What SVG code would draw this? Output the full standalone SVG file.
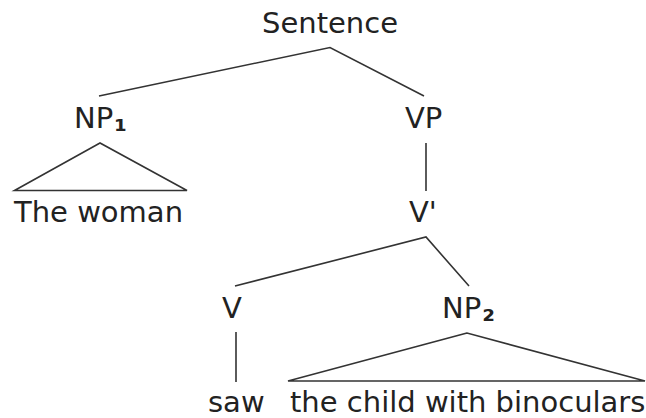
<svg xmlns="http://www.w3.org/2000/svg" width="646" height="418" viewBox="0 0 646 418">
  <style>
    .lbl { font-family: "DejaVu Sans", "Liberation Sans", sans-serif; font-size: 29px; fill: #222; }
    .sub { font-weight: bold; }
    .edge { stroke: #333; stroke-width: 1.6; fill: none; stroke-linejoin: miter; }
  </style>
  <rect width="646" height="418" fill="#fff"/>

  <!-- branches of the tree -->
  <g id="connectors">
    <polyline class="edge" points="99,96 330,47.5 424,96"/>
    <line class="edge" x1="426" y1="143" x2="426" y2="191"/>
    <polyline class="edge" points="235,286 426,237 469,286"/>
    <line class="edge" x1="236" y1="332" x2="236" y2="382"/>
    <!-- collapsed subtrees -->
    <polygon class="edge" points="100,143 14.5,190.5 187,190.5"/>
    <polygon class="edge" points="467,333 288,381 645,381"/>
  </g>

  <g id="sentence"><text class="lbl" x="262" y="33">Sentence</text></g>
  <g id="np1"><text class="lbl" x="74" y="128">NP<tspan class="sub" dx="1" dy="3">₁</tspan></text></g>
  <g id="vp"><text class="lbl" x="405" y="128">VP</text></g>
  <g id="the-woman"><text class="lbl" x="14" y="222">The woman</text></g>
  <g id="vbar"><text class="lbl" x="409" y="222">V'</text></g>
  <g id="v"><text class="lbl" x="222" y="318">V</text></g>
  <g id="np2"><text class="lbl" x="442" y="318">NP<tspan class="sub" dx="1" dy="3">₂</tspan></text></g>
  <g id="saw"><text class="lbl" x="208" y="412">saw</text></g>
  <g id="the-child"><text class="lbl" x="290" y="412">the child with binoculars</text></g>
</svg>
